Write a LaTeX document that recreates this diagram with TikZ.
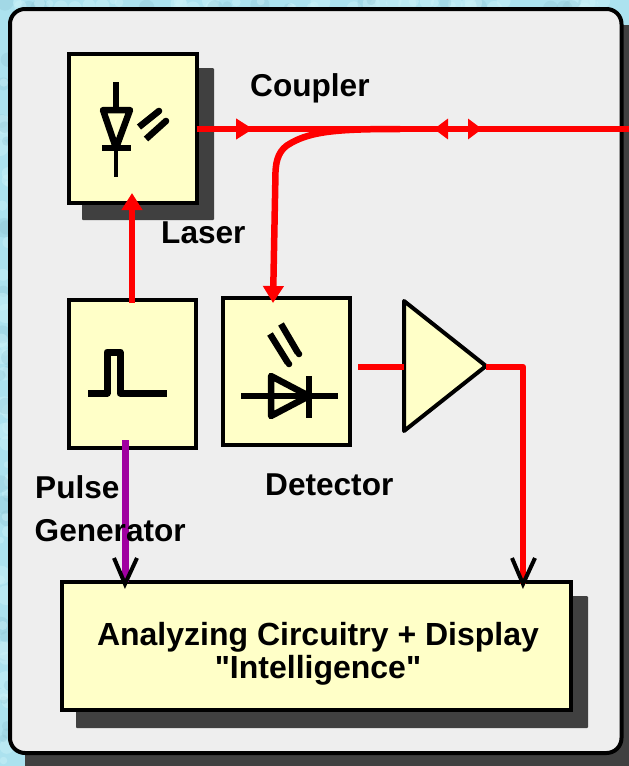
\documentclass[tikz,border=0pt]{standalone}
\usepackage{fontspec}
\newfontfamily\lblfont{Liberation Sans}
\usetikzlibrary{arrows.meta}
\definecolor{bgblue}{HTML}{ACE2EF}
\definecolor{bgpale}{HTML}{CDF2F8}
\definecolor{bgdeep}{HTML}{8CC4D2}
\definecolor{panelgray}{HTML}{EEEEEE}
\definecolor{shadowgray}{HTML}{404040}
\definecolor{boxyellow}{HTML}{FFFFC8}
\definecolor{sigred}{HTML}{FF0000}
\definecolor{sigpurple}{HTML}{A000A0}
\tikzset{
  x=1pt,y=-1pt,
  blockbox/.style={draw=black,line width=4pt,fill=boxyellow,inner sep=0pt,outer sep=0pt,minimum width=#1},
  shadowbox/.style={fill=shadowgray,rounded corners=1pt},
  redline/.style={draw=sigred,line width=6.5pt},
  purpleline/.style={draw=sigpurple,line width=7pt},
  redtip/.style={-{Triangle[length=17pt,width=20pt,fill=sigred]}},
  smalltip/.style={-{Triangle[length=14pt,width=20pt,fill=sigred]}},
  vee/.style={draw=black,line width=4pt,line join=miter},
  sym/.style={draw=black,line width=6.5pt},
  symthin/.style={draw=black,line width=4pt},
  label/.style={font=\lblfont\fontsize{31.6}{36}\selectfont\bfseries,anchor=base west,inner sep=0pt,text=black},
}
\begin{document}
\begin{tikzpicture}
\useasboundingbox (0,0) rectangle (629,766);
\begin{scope}
\clip (0,0) rectangle (629,766);
\fill[bgblue] (0,0) rectangle (629,766);
\pgfmathsetseed{4217}
\foreach \i in {1,...,70}{
  \pgfmathsetmacro{\py}{rnd*766}
  \pgfmathsetmacro{\px}{rnd*10}
  \pgfmathsetmacro{\ps}{3+rnd*7}
  \pgfmathsetmacro{\pk}{rnd}
  \ifdim\pk pt>0.35pt
    \fill[bgpale,opacity=0.45] (\px,\py) circle (\ps);
  \else
    \fill[bgdeep,opacity=0.3] (\px,\py) circle (\ps);
  \fi
}
\foreach \i in {1,...,60}{
  \pgfmathsetmacro{\px}{rnd*629}
  \pgfmathsetmacro{\py}{rnd*9}
  \pgfmathsetmacro{\ps}{3+rnd*7}
  \pgfmathsetmacro{\pk}{rnd}
  \ifdim\pk pt>0.35pt
    \fill[bgpale,opacity=0.45] (\px,\py) circle (\ps);
  \else
    \fill[bgdeep,opacity=0.3] (\px,\py) circle (\ps);
  \fi
}
\fill[shadowgray,rounded corners=14pt] (25,25) rectangle (660,790);
\end{scope}
\draw[black,line width=4pt,fill=panelgray,rounded corners=15pt] (10,9) rectangle (621.5,753);

% shadows
\fill[shadowbox] (82,68) rectangle (214,220);
\fill[shadowbox] (76,596) rectangle (588,728);

% blocks
\node[blockbox=128pt,minimum height=149pt] (laser) at (132.5,128) {};
\node[blockbox=127pt,minimum height=148pt] (pulse) at (132,374) {};
\node[blockbox=127pt,minimum height=147pt] (detector) at (286.5,371.5) {};
\node[blockbox=508.5pt,minimum height=128pt] (analyzer) at (316.25,646) {};
\coordinate (ampA) at (404,301);
\coordinate (ampB) at (404,431);
\coordinate (ampC) at (486,366);
\draw[black,line width=4pt,line join=round,fill=boxyellow] (ampA) -- (ampC) -- (ampB) -- cycle;

% connector end points
\coordinate (exit) at (629,129);
\coordinate (laserTip) at (253,129);
\coordinate (leftTip) at (434,129);
\coordinate (leftBase) at (449,129);
\coordinate (rightBase) at (467,129);
\coordinate (rightTip) at (482,129);
\coordinate (detTip) at (273,303);
\coordinate (laserIn) at (132,193);
\coordinate (pulseOut) at (132,303);
\coordinate (purpleStart) at (125,440);
\coordinate (purpleEnd) at (125,582);
\coordinate (detOut) at (358,367);
\coordinate (corner) at (523,367);
\coordinate (vOne) at (125,584);
\coordinate (vTwo) at (523,584);

% red signal lines
\draw[redline] (laser.east |- exit) -- (exit);
\draw[redline,redtip] (laser.east |- exit) -- (laserTip);
\draw[redline,smalltip] (leftBase) -- (leftTip);
\draw[redline,smalltip] (rightBase) -- (rightTip);
\draw[redline,redtip] (pulseOut) -- (laserIn);
\draw[redline,redtip,line cap=butt] (400,129) .. controls (340,129) and (312,131) .. (291,143)
   .. controls (279,149) and (276,160) .. (275.5,172) -- (detTip);
\draw[redline] (detOut) -- (ampA |- detOut);
\draw[redline,line join=round] (ampC |- corner) -- (corner) -- (vTwo);

\draw[purpleline] (purpleStart) -- (purpleEnd);

% labels
\node[label] (lblCoupler) at (250,96) {Coupler};
\node[label] (lblLaser) at (161,243) {Laser};
\node[label] (lblPulse) at (35,498) {Pulse};
\node[label] (lblGen) at (34.5,541) {Generator};
\node[label] (lblDet) at (265,495) {Detector};
\node[font=\lblfont\fontsize{32}{33}\selectfont\bfseries,align=center,inner sep=0pt] (lblAn) at (318,654)
  {Analyzing Circuitry + Display\\"Intelligence"};

\draw[vee] (114,558) -- (vOne) -- (137,558);
\draw[vee] (512,558) -- (vTwo) -- (535,558);

% laser symbol
\coordinate (lasCtr) at (116,110);
\draw[sym] (116,82) -- (lasCtr);
\draw[symthin] (116,148) -- (116,177);
\draw[sym,line join=round] (103,110) -- (130,110) -- (116,148) -- cycle;
\draw[sym] (102,148) -- (131,148);
\draw[sym,line cap=butt] (139,127) -- (159,111);
\fill (159,111) circle (3.3);
\draw[sym,line cap=butt] (146,139) -- (166,121);
\fill (166,121) circle (3.3);

% pulse symbol
\draw[sym,line join=round,line width=7pt] (88,393) -- (107,393) -- (107,352) -- (120,352) -- (120,393) -- (167,393);

% detector symbol
\draw[sym] (241,396) -- (338,396);
\draw[sym,line join=round] (271,376) -- (271,416) -- (309,396) -- cycle;
\draw[sym] (309,376) -- (309,418);
\draw[sym,line cap=butt] (270,334) -- (288,363);
\fill (289,364) circle (3.3);
\draw[sym,line cap=butt] (281,324) -- (298,353);
\fill (299,354) circle (3.3);
\end{tikzpicture}
\end{document}
